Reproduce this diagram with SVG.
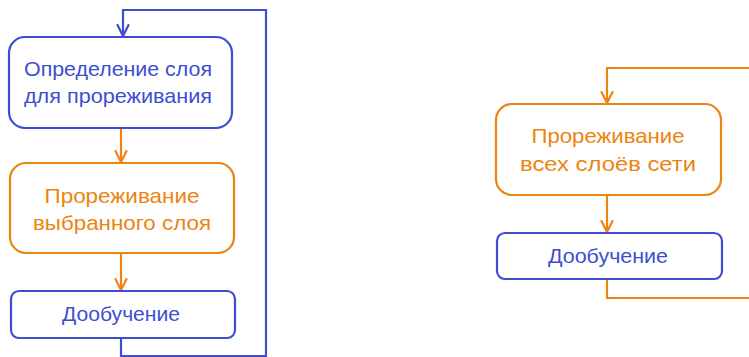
<svg xmlns="http://www.w3.org/2000/svg" width="749" height="357" viewBox="0 0 749 357">
<style>
.b{fill:#fff;stroke:#3d4ed0;stroke-width:2.2}
.o{fill:#fff;stroke:#ec8411;stroke-width:2.2}
.cb{fill:none;stroke:#3d4ed0;stroke-width:2.2}
.co{fill:none;stroke:#ec8411;stroke-width:2.2}
text{font-family:"Liberation Sans","DejaVu Sans",sans-serif;font-size:21px;text-anchor:middle}
.tb{fill:#3d4ed0}
.to{fill:#ec8411}
</style>
<defs>
<marker id="ab" markerUnits="userSpaceOnUse" markerWidth="14" markerHeight="14" refX="12" refY="7" orient="auto" viewBox="0 0 14 14">
<path d="M1,1.5 L12,7 L1,12.5" fill="none" stroke="#3d4ed0" stroke-width="2.2" stroke-linecap="round" stroke-linejoin="round"/>
</marker>
<marker id="ao" markerUnits="userSpaceOnUse" markerWidth="14" markerHeight="14" refX="12" refY="7" orient="auto" viewBox="0 0 14 14">
<path d="M1,1.5 L12,7 L1,12.5" fill="none" stroke="#ec8411" stroke-width="2.2" stroke-linecap="round" stroke-linejoin="round"/>
</marker>
</defs>
<g id="connectors">
<path class="co" d="M121,128 L121,162" marker-end="url(#ao)"/>
<path class="co" d="M121,253 L121,290" marker-end="url(#ao)"/>
<path class="cb" d="M121,338 L121,356 L266,356 L266,10 L123,10 L123,36" marker-end="url(#ab)"/>
<path class="co" d="M607,195 L607,232" marker-end="url(#ao)"/>
<path class="co" d="M607,279 L607,298 L750,298"/>
<path class="co" d="M750,68 L607,68 L607,103" marker-end="url(#ao)"/>
</g>
<g id="node1">
<rect class="b" x="9" y="37" width="223" height="91" rx="16"/>
<text class="tb" x="118" y="76" textLength="188" lengthAdjust="spacingAndGlyphs">Определение слоя</text>
<text class="tb" x="118" y="103" textLength="188" lengthAdjust="spacingAndGlyphs">для прореживания</text>
</g>
<g id="node2">
<rect class="o" x="10" y="163" width="224" height="90" rx="16"/>
<text class="to" x="122" y="203" textLength="155" lengthAdjust="spacingAndGlyphs">Прореживание</text>
<text class="to" x="122" y="230" textLength="178" lengthAdjust="spacingAndGlyphs">выбранного слоя</text>
</g>
<g id="node3">
<rect class="b" x="11" y="291" width="224" height="47" rx="8"/>
<text class="tb" x="121" y="321" textLength="118" lengthAdjust="spacingAndGlyphs">Дообучение</text>
</g>
<g id="node4">
<rect class="o" x="496" y="104" width="225" height="91" rx="16"/>
<text class="to" x="608" y="143" textLength="153" lengthAdjust="spacingAndGlyphs">Прореживание</text>
<text class="to" x="608" y="171" textLength="176" lengthAdjust="spacingAndGlyphs">всех слоёв сети</text>
</g>
<g id="node5">
<rect class="b" x="497" y="233" width="225" height="46" rx="8"/>
<text class="tb" x="608" y="263" textLength="120" lengthAdjust="spacingAndGlyphs">Дообучение</text>
</g>
</svg>
